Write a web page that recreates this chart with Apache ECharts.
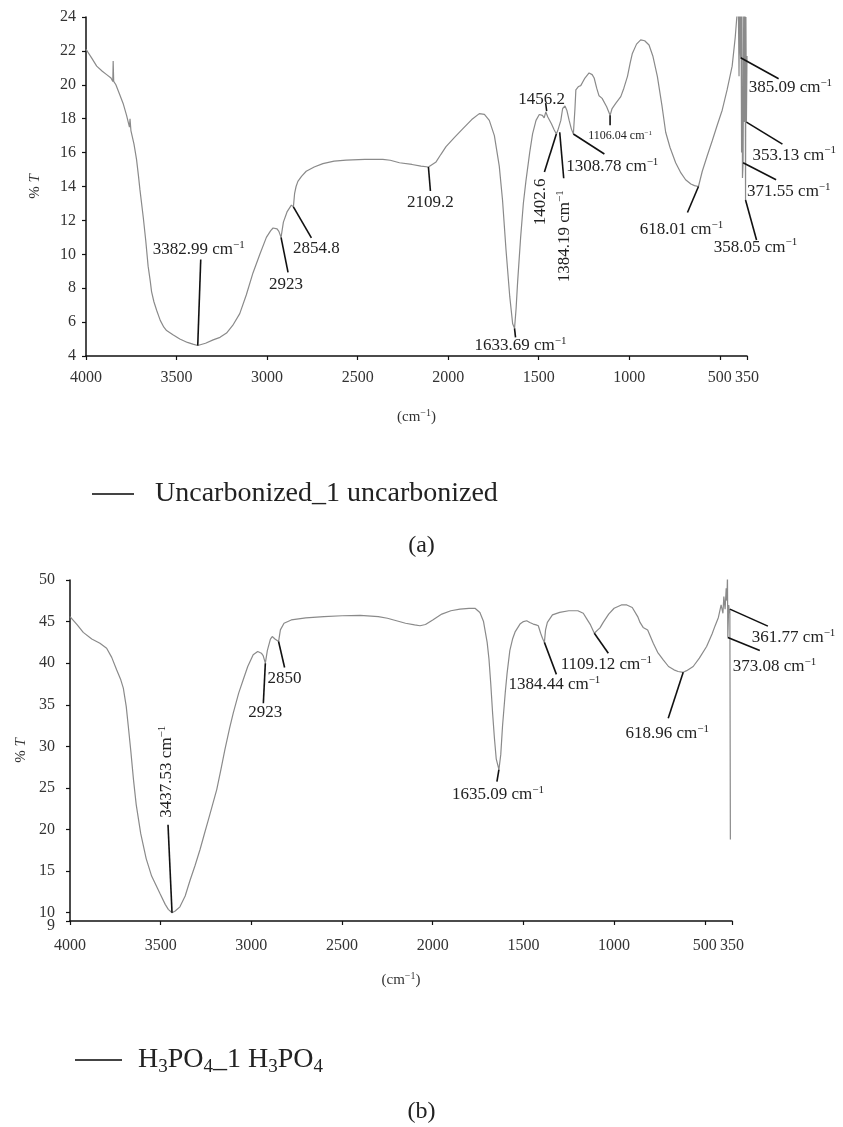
<!DOCTYPE html>
<html><head><meta charset="utf-8">
<script src="https://cdn.jsdelivr.net/npm/echarts@6/dist/echarts.min.js"></script>
<style>html,body{margin:0;padding:0;background:#fff}#c{width:843px;height:1127px}</style>
</head><body><div id="c"></div>
<script>
// ---------- DATA ----------
const xTickValues = [4000, 3500, 3000, 2500, 2000, 1500, 1000, 500, 350];
const topYTicks = [4, 6, 8, 10, 12, 14, 16, 18, 20, 22, 24];
const bottomYTicks = [9, 10, 15, 20, 25, 30, 35, 40, 45, 50];
const bottomYLabelValues = [10, 15, 20, 25, 30, 35, 40, 45, 50];
const bottomYMinLabel = [9];

const topSeriesName = 'Uncarbonized_1 uncarbonized';
const topWavenumber = [4000,3970,3941,3910,3886,3862,3852,3850,3847,3835,3813,3795,3776,3760,3757,3752,3735,3721,3710,3702,3684,3670,3657,3645,3638,3625,3610,3590,3570,3555,3520,3482,3440,3410,3382.99,3340,3298,3260,3224,3190,3151,3115,3078,3040,3004,2980,2967,2945,2935,2923,2910,2890,2866,2854.8,2848,2840,2830,2810,2784,2740,2692,2630,2563,2460,2361,2320,2269,2200,2150,2109.2,2067,2040,2012,1965,1920,1870,1828,1800,1773,1745,1718,1700,1681,1660,1644,1633.69,1625,1617,1600,1585,1571,1550,1534,1515,1497,1480,1470,1461,1456.2,1450,1442,1430,1415,1402.6,1395,1384.19,1378,1368,1355,1345,1332,1320,1308.78,1300,1295,1280,1268,1245,1222,1205,1194,1180,1167,1150,1139,1125,1106.04,1095,1075,1047,1030,1010,995,983,960,937,915,891,870,845,820,799,775,744,715,689,660,640,618.01,597,570,542,515,487,460,432,415,404,398,394,391,387,385.09,383,380,378,375,371.55,368,364,361,358.05,356,353.13,350];
const topTransmittance = [22.1,21.6,21.1,20.8,20.6,20.4,20.2,21.4,20.2,20.0,19.4,18.9,18.2,17.5,18.0,17.3,16.5,15.6,14.6,13.8,12.2,10.8,9.3,8.4,7.8,7.2,6.7,6.1,5.7,5.5,5.25,5.0,4.8,4.7,4.62,4.75,4.95,5.1,5.35,5.8,6.5,7.6,8.9,10.0,11.0,11.4,11.55,11.5,11.35,11.0,11.9,12.5,12.9,12.8,13.6,14.0,14.3,14.6,14.9,15.15,15.35,15.5,15.56,15.6,15.6,15.55,15.4,15.3,15.2,15.15,15.45,15.9,16.35,16.9,17.4,17.95,18.3,18.25,17.9,17.0,15.2,13.2,10.3,7.5,5.9,5.63,6.8,8.3,11.0,13.0,14.3,16.0,17.1,17.9,18.25,18.2,18.05,18.4,18.45,18.1,18.0,17.7,17.35,17.1,17.3,17.2,17.9,18.6,18.75,18.5,17.9,17.4,17.1,18.6,19.7,19.9,19.95,20.4,20.7,20.6,20.4,19.8,19.35,19.2,19.1,18.7,18.2,18.6,18.9,19.3,19.8,20.5,21.3,21.85,22.4,22.65,22.6,22.35,21.7,20.5,18.8,17.2,16.3,15.4,14.8,14.4,14.15,14.05,14.0,14.9,15.8,16.7,17.6,18.5,19.7,21.1,22.8,24.3,25,20.5,25,22,21.6,25,16,25,14.5,15.4,25,17.8,25,13.2,24,17.8,21.7];

const bottomSeriesName = 'H3PO4_1 H3PO4';
const bottomWavenumber = [4000,3960,3927,3880,3835,3798,3770,3743,3720,3706,3690,3679,3665,3650,3635,3610,3580,3550,3504,3475,3458,3437.53,3420,3394,3365,3338,3310,3283,3260,3238,3215,3191,3168,3146,3120,3100,3070,3045,3020,2990,2965,2945,2935,2923,2912,2895,2885,2870,2862,2850,2840,2820,2780,2700,2600,2500,2400,2300,2250,2200,2150,2100,2070,2040,2000,1950,1900,1850,1800,1767,1740,1720,1700,1690,1680,1670,1660,1650,1635.09,1625,1615,1600,1590,1575,1560,1545,1519,1500,1482,1465,1446,1430,1418,1405,1395,1384.44,1378,1368,1340,1300,1250,1200,1170,1150,1130,1109.12,1090,1078,1060,1030,1000,960,930,900,870,857,840,815,784,760,729,700,670,647,618.96,600,564,530,490,460,444,425,410,400,395,388,382,378,375,373.08,368,364,361.77,359];
const bottomTransmittance = [45.6,44.6,43.7,42.9,42.4,41.8,40.7,39.2,38.0,37.0,34.8,32.5,29.5,26.0,23.0,19.5,16.5,14.4,12.3,11.0,10.4,10.0,10.2,10.7,12.0,13.9,15.7,17.6,19.4,21.1,22.9,24.8,27.2,29.6,32.2,34.0,36.4,38.0,39.6,41.0,41.4,41.2,40.9,40.0,41.5,42.9,43.2,42.9,42.7,42.6,44.0,44.8,45.2,45.45,45.6,45.7,45.75,45.6,45.4,45.1,44.8,44.6,44.5,44.65,45.2,45.9,46.3,46.5,46.6,46.6,46.1,45.0,42.5,40.5,37.5,34.0,31.0,28.5,27.2,29.0,32.5,36.5,38.8,41.5,42.9,43.8,44.7,45.0,45.1,44.9,44.7,44.6,44.5,43.6,43.0,42.5,44.0,44.9,45.8,46.1,46.3,46.3,46.0,45.3,44.6,43.6,44.0,44.25,44.9,45.9,46.6,47.0,47.0,46.7,45.6,44.9,44.3,44.0,42.4,41.3,40.4,39.6,39.2,39.0,38.9,39.1,39.6,40.6,42.0,43.5,44.45,45.5,47.0,46.0,48.0,46.5,49.0,47.5,50.6,43.1,47.0,46.0,46.5,18.8];

// peak annotations (wavenumber, label, has unit)
const topPeakWavenumbers = [3382.99, 2923, 2854.8, 2109.2, 1633.69, 1456.2, 1402.6, 1384.19, 1308.78, 1106.04, 618.01, 385.09, 353.13, 371.55, 358.05];
const topPeakLabels = ['3382.99', '2923', '2854.8', '2109.2', '1633.69', '1456.2', '1402.6', '1384.19', '1308.78', '1106.04', '618.01', '385.09', '353.13', '371.55', '358.05'];
const topPeakUnit = [1,0,0,0,1,0,0,1,1,1,1,1,1,1,1];

const bottomPeakWavenumbers = [3437.53, 2923, 2850, 1635.09, 1384.44, 1109.12, 618.96, 361.77, 373.08];
const bottomPeakLabels = ['3437.53', '2923', '2850', '1635.09', '1384.44', '1109.12', '618.96', '361.77', '373.08'];
const bottomPeakUnit = [1,0,0,1,1,1,1,1,1];

// ---------- LAYOUT (pixel offsets of leader lines / labels) ----------
const topAnnLayout = [
  {lx:3, ly:-86, tx:1, ty:-96},
  {lx:7, ly:35, tx:5, ty:47},
  {lx:18, ly:31, tx:23, ty:42},
  {lx:2, ly:24, tx:2, ty:36},
  {lx:1, ly:9, tx:6, ty:17},
  {lx:-1, ly:-8, tx:-5, ty:-12},
  {lx:-12, ly:38, tx:-16, ty:68, rot:1},
  {lx:4, ly:46, tx:5, ty:104, rot:1},
  {lx:31, ly:20, tx:-7, ty:33, al:'left'},
  {lx:0, ly:10, tx:10, ty:21, fs:12},
  {lx:-11, ly:26, tx:-17, ty:43},
  {lx:38, ly:21, tx:8, ty:30, al:'left'},
  {lx:36, ly:22, tx:6, ty:33, al:'left'},
  {lx:33, ly:17, tx:4, ty:29, al:'left'},
  {lx:11, ly:40, tx:10, ty:47}
];
const bottomAnnLayout = [
  {lx:-4, ly:-88, tx:-5, ty:-141, rot:1},
  {lx:-2, ly:40, tx:0, ty:49},
  {lx:6, ly:26, tx:6, ty:37},
  {lx:-2, ly:12, tx:-1, ty:25},
  {lx:12, ly:32, tx:10, ty:42},
  {lx:14, ly:20, tx:12, ty:31},
  {lx:-15, ly:46, tx:-16, ty:61},
  {lx:38, ly:17, tx:22, ty:28, al:'left'},
  {lx:32, ly:13, tx:5, ty:29, al:'left'}
];

const FONT = '"Liberation Serif", "DejaVu Serif", serif';
const TXT = '#222';

function pairs(ws, vs) { return ws.map((w, i) => [w, vs[i]]); }
function anchors(peaks, ws, vs) { return peaks.map(w => [w, vs[ws.indexOf(w)]]); }

function richFor(fs) {
  return {
    n: {fontSize: fs, fontFamily: FONT, fill: TXT},
    s: {fontSize: Math.round(fs * 0.62), fontFamily: FONT, fill: TXT, padding: [0, 0, Math.round(fs * 0.55), 0]}
  };
}

function annSeries(peaks, labels, units, ws, vs, layout, idx) {
  return {
    type: 'custom', xAxisIndex: idx, yAxisIndex: idx, clip: false, silent: true, z: 5,
    data: anchors(peaks, ws, vs),
    renderItem: function (params, api) {
      const i = params.dataIndex;
      const p = api.coord([api.value(0), api.value(1)]);
      const L = layout[i];
      const fs = L.fs || 17;
      const txt = '{n|' + labels[i] + (units[i] ? ' cm' : '') + '}' + (units[i] ? '{s|\u22121}' : '');
      return {
        type: 'group',
        children: [
          {type: 'line', shape: {x1: p[0], y1: p[1], x2: p[0] + L.lx, y2: p[1] + L.ly},
           style: {stroke: '#111', lineWidth: 1.6}},
          {type: 'text', x: p[0] + L.tx, y: p[1] + L.ty, rotation: L.rot ? Math.PI / 2 : 0,
           style: {text: txt, rich: richFor(fs), fontSize: fs, fontFamily: FONT, fill: TXT,
                   align: L.al || 'center', verticalAlign: 'middle'}}
        ]
      };
    }
  };
}

const axisLineStyle = {color: '#111', width: 1.5};
const tickLabel = {fontFamily: FONT, fontSize: 16, color: '#333'};
const xNameStyle = {fontFamily: FONT, fontSize: 15, color: '#333',
  rich: {s: {fontFamily: FONT, fontSize: 10, color: '#333', padding: [0, 0, 8, 0]}}};
const yNameStyle = {fontFamily: FONT, fontSize: 15, color: '#333',
  rich: {i: {fontFamily: FONT, fontSize: 15, fontStyle: 'italic', color: '#333'}}};

function xAxisFor(gridIndex, nameGap, labelMargin) {
  return {
    type: 'value', gridIndex: gridIndex, min: 350, max: 4000, inverse: true,
    name: '(cm{s|\u22121})', nameLocation: 'middle', nameGap: nameGap, nameTextStyle: xNameStyle,
    axisLine: {lineStyle: axisLineStyle},
    axisTick: {show: true, length: 4, customValues: xTickValues, lineStyle: {color: '#111', width: 1.2}},
    axisLabel: Object.assign({customValues: xTickValues, margin: labelMargin,
      showMinLabel: true, showMaxLabel: true, hideOverlap: false,
      formatter: function (v) { return String(v); }}, tickLabel),
    splitLine: {show: false}
  };
}

const chart = echarts.init(document.getElementById('c'), null, {renderer: 'canvas'});
chart.setOption({
  animation: false,
  backgroundColor: '#fff',
  title: [
    {text: '(a)', left: 'center', top: 529, textStyle: {fontFamily: FONT, fontSize: 24, fontWeight: 'normal', color: TXT}},
    {text: '(b)', left: 'center', top: 1095, textStyle: {fontFamily: FONT, fontSize: 24, fontWeight: 'normal', color: TXT}}
  ],
  legend: [
    {data: [topSeriesName], left: 87, top: 475, icon: 'rect', itemWidth: 42, itemHeight: 2,
     selectedMode: false, itemStyle: {color: '#444'},
     textStyle: {fontFamily: FONT, fontSize: 28, color: TXT, padding: [0, 0, 0, 16]}},
    {data: [bottomSeriesName], left: 70, top: 1041, icon: 'rect', itemWidth: 47, itemHeight: 2,
     selectedMode: false, itemStyle: {color: '#444'},
     formatter: function () { return '{n|H}{s|3}{n|PO}{s|4}{n|_1 H}{s|3}{n|PO}{s|4}'; },
     textStyle: {fontFamily: FONT, fontSize: 28, color: TXT, padding: [0, 0, 0, 11],
       rich: {n: {fontFamily: FONT, fontSize: 28, color: TXT},
              s: {fontFamily: FONT, fontSize: 19, color: TXT, padding: [15, 0, 0, 0]}}}}
  ],
  grid: [
    {left: 86, width: 661, top: 17, height: 339},
    {left: 70, width: 662, top: 580, height: 341}
  ],
  xAxis: [xAxisFor(0, 52, 14), xAxisFor(1, 50, 17)],
  yAxis: [
    {type: 'value', gridIndex: 0, min: 4, max: 24, interval: 2,
     name: '% {i|T}', nameLocation: 'middle', nameGap: 43, nameRotate: 90, nameTextStyle: yNameStyle,
     axisLine: {show: true, lineStyle: axisLineStyle},
     axisTick: {show: true, length: 4, lineStyle: {color: '#111', width: 1.2}},
     axisLabel: Object.assign({margin: 10, showMinLabel: true, showMaxLabel: true}, tickLabel), splitLine: {show: false}},
    {type: 'value', gridIndex: 1, min: 9, max: 50,
     name: '% {i|T}', nameLocation: 'middle', nameGap: 41, nameRotate: 90, nameTextStyle: yNameStyle,
     axisLine: {show: true, lineStyle: axisLineStyle},
     axisTick: {show: true, length: 4, customValues: bottomYTicks, lineStyle: {color: '#111', width: 1.2}},
     axisLabel: Object.assign({margin: 15, customValues: bottomYLabelValues}, tickLabel),
     splitLine: {show: false}},
    // companion axis carrying only the "9" label of the lower chart
    {type: 'value', gridIndex: 1, min: 9, max: 50, position: 'left',
     axisLine: {show: false}, axisTick: {show: false}, splitLine: {show: false},
     axisLabel: Object.assign({margin: 15, customValues: bottomYMinLabel, showMinLabel: true,
       formatter: function (v) { return '{lo|' + v + '}'; },
       rich: {lo: {fontFamily: FONT, fontSize: 16, color: '#333', padding: [9, 0, 0, 0]}}}, tickLabel)}
  ],
  series: [
    {name: topSeriesName, type: 'line', xAxisIndex: 0, yAxisIndex: 0, symbol: 'none',
     data: pairs(topWavenumber, topTransmittance), lineStyle: {color: '#8a8a8a', width: 1.2}, itemStyle: {color: '#444'}},
    {name: bottomSeriesName, type: 'line', xAxisIndex: 1, yAxisIndex: 1, symbol: 'none',
     data: pairs(bottomWavenumber, bottomTransmittance), lineStyle: {color: '#8a8a8a', width: 1.2}, itemStyle: {color: '#444'}},
    annSeries(topPeakWavenumbers, topPeakLabels, topPeakUnit, topWavenumber, topTransmittance, topAnnLayout, 0),
    annSeries(bottomPeakWavenumbers, bottomPeakLabels, bottomPeakUnit, bottomWavenumber, bottomTransmittance, bottomAnnLayout, 1)
  ]
});
</script></body></html>
